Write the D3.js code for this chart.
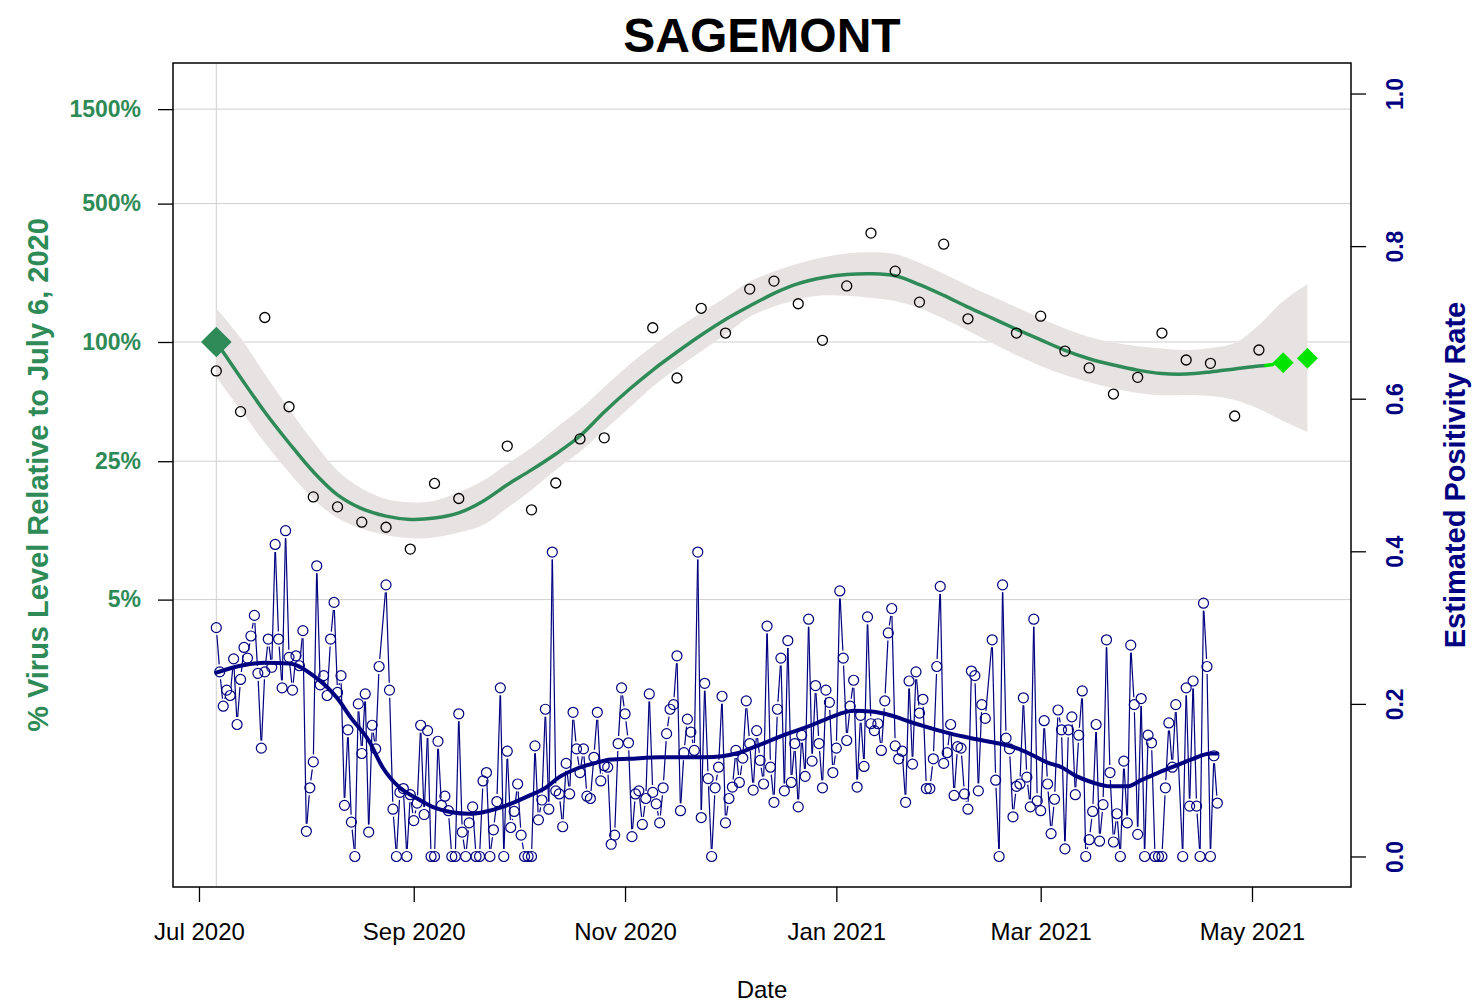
<!DOCTYPE html>
<html>
<head>
<meta charset="utf-8">
<script src="https://cdnjs.cloudflare.com/ajax/libs/d3/7.8.5/d3.min.js"></script>
<style>
body { margin: 0; background: #ffffff; }
text { font-family: "Liberation Sans", Arial, sans-serif; }
</style>
</head>
<body>
<div id="chart"></div>
<script>
// all series are keyed by days after July 6, 2020
var START = new Date(2020, 6, 6);

// weekly virus level samples (% of July 6 level)
var sampleDays = [0, 7, 14, 21, 28, 35, 42, 49, 56, 63, 70, 84, 91, 98, 105, 112, 126, 133, 140, 147,
    154, 161, 168, 175, 182, 189, 196, 203, 210, 217, 231, 238, 245, 252, 259, 266, 273, 280, 287, 294, 301];
var samplePct = [71.4, 44.5, 133, 47.1, 16.5, 14.7, 12.3, 11.6, 9.0, 19.3, 16.2, 29.8, 14.2, 19.4, 32.4, 32.8, 118, 65.8, 148, 111,
    185, 203, 156, 102, 192, 355, 228, 159, 312, 131, 111, 135, 90, 74, 54.6, 66.3, 111, 81.1, 78.0, 42.3, 91.1];

// smoothed trend with its confidence band
var trendDays = [0, 7, 14, 21, 28, 35, 42, 49, 56, 63, 70, 77, 84, 91, 98, 105, 112, 119, 126, 133, 140, 147,
    154, 161, 168, 175, 182, 189, 196, 203, 210, 217, 224, 231, 238, 245, 252, 259, 266, 273, 280, 287, 294, 301, 303];
var trendPct = [100, 66.2, 44.3, 30.9, 22.1, 16.9, 14.4, 13.2, 12.7, 12.9, 13.7, 15.7, 19.0, 22.6,
    27.2, 33.5, 44.3, 57.2, 72.2, 89.0, 108.5, 130, 152, 176, 197, 211, 219, 221, 216, 195, 172, 150, 132, 116, 102.5, 90.8, 82.3, 76.5, 72.1, 69.3,
    68.9, 70.6, 73.1, 75.6, 76];
var bandDays = [0, 7, 14, 21, 28, 35, 42, 49, 56, 63, 70, 77, 84, 91, 98, 105, 112, 119, 126, 133, 140, 147,
    154, 161, 168, 175, 182, 189, 196, 203, 210, 217, 224, 231, 238, 245, 252, 259, 266, 273, 280, 287, 294, 301, 308, 315];
var bandUpper = [148, 105, 68.9, 45.9, 31.4, 22.4, 18.2, 16.1, 15.5, 15.8, 17.4, 19.9, 24.2, 29.2,
    36.8, 45.7, 59.3, 76.2, 95.4, 117, 141, 168, 202, 227, 249, 267, 280, 284, 278, 251, 221, 193, 170, 150, 132, 117, 106, 99.4, 95.2, 92.7,
    91.1, 93.3, 98.8, 122, 161, 196];
var bandLower = [66.5, 45.3, 30.9, 21.9, 16.1, 12.9, 11.4, 10.6, 10.2, 10.3, 10.9, 11.9, 14.5, 17.9,
    22.6, 27.9, 35.8, 46.1, 59.4, 73.6, 89.7, 109, 134, 151, 164, 172, 171, 167, 161, 148, 131, 114, 98.7, 85.8, 75.7, 68.1, 62.6, 58.2, 55.3, 53.9,
    54.0, 53.4, 50.9, 45.9, 39.9, 35.1];

// short projected piece and the two projected weeks
var nowcastDays = [303, 305];
var nowcastPct = [76, 77];
var forecastDays = [308, 315];
var forecastPct = [78.6, 82.8];

// daily estimated positivity rate, day 0 .. 289 (null = no value)
var positivity = [
    0.300, 0.242, 0.197, 0.218, 0.211, 0.259, 0.173, 0.232, 0.274, 0.260,
    0.289, 0.316, 0.240, 0.142, 0.242, 0.285, 0.248, 0.409, 0.285, 0.221,
    0.427, 0.261, 0.218, 0.263, 0.250, 0.296, 0.033, 0.090, 0.124, 0.381,
    0.225, 0.237, 0.211, 0.285, 0.333, 0.215, 0.237, 0.067, 0.166, 0.045,
    0, 0.200, 0.135, 0.213, 0.032, 0.172, 0.141, 0.249, null, 0.356,
    0.218, 0.062, 0, 0.084, 0.089, 0, 0.081, 0.047, 0.070, 0.172,
    0.055, 0.165, 0, 0, 0.151, 0.067, 0.079, 0.060, 0, 0,
    0.187, 0.032, 0, 0.044, 0.065, 0, 0, 0.099, 0.110, 0,
    0.035, 0.072, 0.221, 0, 0.138, 0.038, 0.059, 0.095, 0.028, 0,
    0, 0, 0.145, 0.048, 0.074, 0.193, 0.062, 0.399, 0.086, 0.082,
    0.039, 0.122, 0.082, 0.189, 0.141, 0.110, 0.141, 0.079, 0.076, 0.130,
    0.189, 0.099, 0.119, 0.117, 0.016, 0.028, 0.148, 0.221, 0.187, 0.149,
    0.026, 0.082, 0.086, 0.042, 0.076, 0.213, 0.084, 0.069, 0.044, 0.090,
    0.161, 0.193, 0.199, 0.263, 0.060, 0.136, 0.180, 0.163, 0.139, 0.399,
    0.051, 0.227, 0.102, 0, 0.090, 0.117, 0.210, 0.044, 0.076, 0.091,
    0.139, 0.097, 0.129, 0.204, 0.148, 0.087, 0.165, 0.126, 0.095, 0.302,
    0.117, 0.071, 0.193, 0.260, 0.086, 0.283, 0.097, 0.148, 0.065, 0.159,
    0.105, 0.311, 0.125, 0.224, 0.148, 0.090, 0.218, 0.202, 0.110, 0.142,
    0.348, 0.260, 0.152, 0.197, 0.231, 0.091, 0.185, 0.118, 0.314, 0.174,
    0.165, 0.174, 0.139, 0.204, 0.293, 0.325, 0.145, 0.128, 0.138, 0.071,
    0.230, 0.121, 0.242, 0.188, 0.206, 0.089, 0.089, 0.128, 0.249, 0.354,
    0.122, 0.136, 0.173, 0.080, 0.144, 0.142, 0.082, 0.062, 0.243, 0.237,
    0.086, 0.199, 0.181, null, 0.284, 0.100, 0, 0.356, 0.155, 0.141,
    0.052, 0.092, 0.095, 0.208, 0.104, 0.065, 0.311, 0.073, 0.060, 0.178,
    0.095, 0.030, 0.075, 0.192, 0.166, 0.010, 0.166, 0.183, 0.081, 0.159,
    0.217, 0, 0.022, 0.059, 0.173, 0.020, 0.068, 0.284, 0.110, 0.019,
    0.056, 0, 0.125, 0.044, 0.277, 0.199, 0.029, 0.207, 0, 0.159,
    0.149, 0, 0, 0, 0.090, 0.175, 0.117, 0.199, null, 0,
    0.221, 0.066, 0.230, 0.066, 0, 0.332, 0.249, 0, 0.132, 0.070
];

// smoothed positivity
var posTrendDays = [0, 7, 14, 21, 28, 35, 39, 44, 48, 53, 58, 63, 68, 73, 77, 82, 87, 91, 95, 99, 104, 109, 114, 119, 128, 141,
    151, 155, 160, 165, 170, 175, 180, 184, 189, 193, 202, 212, 218, 226, 231, 236, 240, 244, 248, 253, 258, 263, 267, 272, 277, 282, 287, 289];
var posTrend = [0.241, 0.250, 0.254, 0.253, 0.237, 0.207, 0.181, 0.152, 0.117, 0.090, 0.076, 0.064, 0.058, 0.056, 0.058, 0.064, 0.073, 0.081, 0.090, 0.104, 0.115, 0.122, 0.127, 0.128, 0.130, 0.130,
    0.136, 0.143, 0.152, 0.161, 0.169, 0.178, 0.187, 0.191, 0.190, 0.187, 0.174, 0.161, 0.155, 0.148, 0.142, 0.132, 0.123, 0.117, 0.106, 0.097, 0.092, 0.092, 0.100, 0.110, 0.119, 0.128, 0.135, 0.135];

var pctTicks = [1500, 500, 100, 25, 5];
var rateTicks = [0, 0.2, 0.4, 0.6, 0.8, 1.0];
var monthTicks = [new Date(2020, 6, 1), new Date(2020, 8, 1), new Date(2020, 10, 1),
    new Date(2021, 0, 1), new Date(2021, 2, 1), new Date(2021, 4, 1)];

var GREEN = "#2E8B57";
var LIME = "#00E400";
var NAVY = "#000080";
var BAND = "#E8E3E3";
var GRID = "#CFCFCF";

function dayDate(d) {
    return d3.timeDay.offset(START, d);
}

var svgW = 1474, svgH = 1005;
var plotL = 173, plotR = 1351, plotT = 63, plotB = 887;

var svg = d3.select("#chart").append("svg")
    .attr("width", svgW)
    .attr("height", svgH);

var x = d3.scaleTime()
    .domain([new Date(2020, 5, 23, 12), new Date(2021, 4, 29, 14)])
    .range([plotL, plotR]);
// log scale: 198 px per decade, 100% sits at y = 342
var yPct = d3.scaleLog()
    .domain([100 * Math.pow(10, -(plotB - 342) / 198), 100 * Math.pow(10, (342 - plotT) / 198)])
    .range([plotB, plotT]);
var yRate = d3.scaleLinear()
    .domain([-0.04, 1.04])
    .range([plotB, plotT]);

// grid
var grid = svg.append("g");
grid.selectAll("line.h")
    .data(pctTicks)
    .enter()
    .append("line")
    .attr("x1", plotL).attr("x2", plotR)
    .attr("y1", function (d) { return yPct(d); })
    .attr("y2", function (d) { return yPct(d); })
    .style("stroke", GRID)
    .style("stroke-width", 1);
grid.append("line")
    .attr("x1", x(START)).attr("x2", x(START))
    .attr("y1", plotT).attr("y2", plotB)
    .style("stroke", GRID)
    .style("stroke-width", 1);

// virus level band + trend
var smooth = d3.curveCatmullRom.alpha(0.5);
var band = bandDays.map(function (d, i) {
    return { date: dayDate(d), hi: bandUpper[i], lo: bandLower[i] };
});
svg.append("path")
    .datum(band)
    .attr("d", d3.area()
        .curve(smooth)
        .x(function (d) { return x(d.date); })
        .y0(function (d) { return yPct(d.lo); })
        .y1(function (d) { return yPct(d.hi); }))
    .style("fill", BAND);

var pctLine = d3.line()
    .curve(smooth)
    .x(function (d) { return x(dayDate(d[0])); })
    .y(function (d) { return yPct(d[1]); });

svg.append("path")
    .datum(d3.zip(trendDays, trendPct))
    .attr("d", pctLine)
    .style("fill", "none")
    .style("stroke", GREEN)
    .style("stroke-width", 3.5);

svg.append("path")
    .datum(d3.zip(nowcastDays, nowcastPct))
    .attr("d", pctLine)
    .style("fill", "none")
    .style("stroke", LIME)
    .style("stroke-width", 3.5)
    .style("stroke-linecap", "round");

svg.append("g").selectAll("circle")
    .data(d3.zip(sampleDays, samplePct))
    .enter()
    .append("circle")
    .attr("cx", function (d) { return x(dayDate(d[0])); })
    .attr("cy", function (d) { return yPct(d[1]); })
    .attr("r", 5)
    .style("fill", "none")
    .style("stroke", "black")
    .style("stroke-width", 1.3);

var diamond = d3.symbol().type(d3.symbolSquare);
svg.append("path")
    .attr("d", diamond.size(470)())
    .attr("transform", "translate(" + x(START) + "," + yPct(100) + ") rotate(45)")
    .style("fill", GREEN);
svg.append("g").selectAll("path")
    .data(d3.zip(forecastDays, forecastPct))
    .enter()
    .append("path")
    .attr("d", diamond.size(220)())
    .attr("transform", function (d) {
        return "translate(" + x(dayDate(d[0])) + "," + yPct(d[1]) + ") rotate(45)";
    })
    .style("fill", LIME);

// positivity: points joined by lines that stop short of each point
var pos = [];
positivity.forEach(function (v, i) {
    if (v !== null) {
        pos.push({ px: x(dayDate(i)), py: yRate(v) });
    }
});
var gap = 7.5;
var segs = [];
for (var i = 1; i < pos.length; i++) {
    var a = pos[i - 1], b = pos[i];
    var dx = b.px - a.px, dy = b.py - a.py;
    var len = Math.sqrt(dx * dx + dy * dy);
    if (len > 2 * gap) {
        segs.push([a.px + dx * gap / len, a.py + dy * gap / len, b.px - dx * gap / len, b.py - dy * gap / len]);
    }
}
svg.append("g").selectAll("line")
    .data(segs)
    .enter()
    .append("line")
    .attr("x1", function (s) { return s[0]; })
    .attr("y1", function (s) { return s[1]; })
    .attr("x2", function (s) { return s[2]; })
    .attr("y2", function (s) { return s[3]; })
    .style("stroke", NAVY)
    .style("stroke-width", 1.2);
svg.append("g").selectAll("circle")
    .data(pos)
    .enter()
    .append("circle")
    .attr("cx", function (p) { return p.px; })
    .attr("cy", function (p) { return p.py; })
    .attr("r", 5)
    .style("fill", "none")
    .style("stroke", NAVY)
    .style("stroke-width", 1.2);

svg.append("path")
    .datum(d3.zip(posTrendDays, posTrend))
    .attr("d", d3.line()
        .curve(d3.curveMonotoneX)
        .x(function (d) { return x(dayDate(d[0])); })
        .y(function (d) { return yRate(d[1]); }))
    .style("fill", "none")
    .style("stroke", NAVY)
    .style("stroke-width", 4)
    .style("stroke-linecap", "round");

// frame
svg.append("rect")
    .attr("x", plotL).attr("y", plotT)
    .attr("width", plotR - plotL).attr("height", plotB - plotT)
    .style("fill", "none")
    .style("stroke", "black")
    .style("stroke-width", 1.5);

// axes
var axL = svg.append("g")
    .attr("transform", "translate(" + plotL + ",0)")
    .call(d3.axisLeft(yPct).tickValues(pctTicks)
        .tickFormat(function (d) { return d + "%"; })
        .tickSize(15).tickPadding(17));
axL.select(".domain").remove();
axL.selectAll("line").style("stroke", "black").style("stroke-width", 1.3);
axL.selectAll("text")
    .style("font-family", "Liberation Sans, Arial, sans-serif")
    .style("font-size", "23px")
    .style("font-weight", "bold")
    .style("fill", GREEN);

var axR = svg.append("g")
    .attr("transform", "translate(" + plotR + ",0)")
    .call(d3.axisRight(yRate).tickValues(rateTicks)
        .tickFormat(d3.format(".1f"))
        .tickSize(15));
axR.select(".domain").remove();
axR.selectAll("line").style("stroke", "black").style("stroke-width", 1.3);
axR.selectAll("text")
    .attr("x", null)
    .attr("dy", "0.35em")
    .attr("transform", "translate(44,0) rotate(-90)")
    .style("text-anchor", "middle")
    .style("font-family", "Liberation Sans, Arial, sans-serif")
    .style("font-size", "23px")
    .style("font-weight", "bold")
    .style("fill", NAVY);

var axB = svg.append("g")
    .attr("transform", "translate(0," + plotB + ")")
    .call(d3.axisBottom(x).tickValues(monthTicks)
        .tickFormat(d3.timeFormat("%b %Y"))
        .tickSize(15).tickPadding(21));
axB.select(".domain").remove();
axB.selectAll("line").style("stroke", "black").style("stroke-width", 1.3);
axB.selectAll("text")
    .style("font-family", "Liberation Sans, Arial, sans-serif")
    .style("font-size", "24px")
    .style("fill", "black");

// titles
svg.append("text")
    .attr("x", 762).attr("y", 52)
    .attr("text-anchor", "middle")
    .style("font-size", "48px")
    .style("font-weight", "bold")
    .text("SAGEMONT");
svg.append("text")
    .attr("x", 762).attr("y", 998)
    .attr("text-anchor", "middle")
    .style("font-size", "24px")
    .text("Date");
svg.append("text")
    .attr("transform", "translate(48,475) rotate(-90)")
    .attr("text-anchor", "middle")
    .style("font-size", "29px")
    .style("font-weight", "bold")
    .style("fill", GREEN)
    .text("% Virus Level Relative to July 6, 2020");
svg.append("text")
    .attr("transform", "translate(1465,475) rotate(-90)")
    .attr("text-anchor", "middle")
    .style("font-size", "29px")
    .style("font-weight", "bold")
    .style("fill", NAVY)
    .text("Estimated Positivity Rate");
</script>
</body>
</html>
